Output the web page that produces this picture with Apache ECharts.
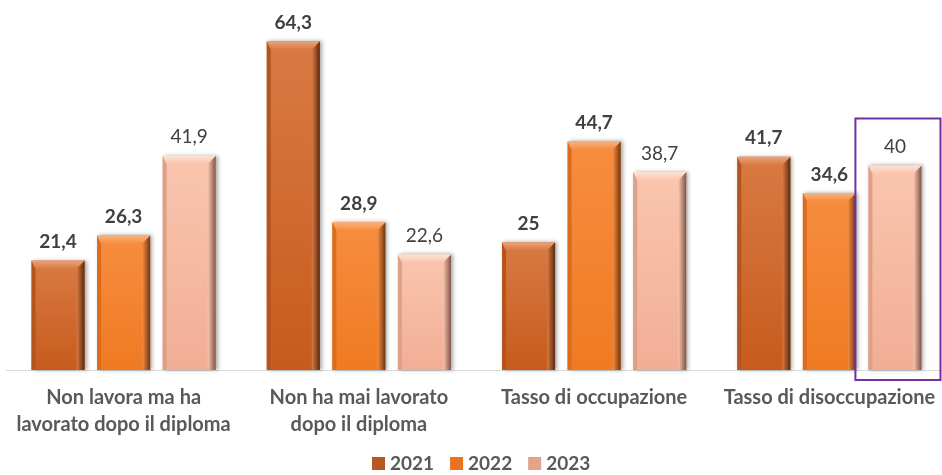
<!DOCTYPE html>
<html><head><meta charset="utf-8">
<script src="https://cdn.jsdelivr.net/npm/echarts@6/dist/echarts.min.js"></script>
<style>html,body{margin:0;padding:0;background:#fff}#c{width:942px;height:475px}</style>
</head><body><div id="c"></div>
<script>
const categories = ['Non lavora ma ha\nlavorato dopo il diploma', 'Non ha mai lavorato\ndopo il diploma', 'Tasso di occupazione', 'Tasso di disoccupazione'];
const years = ['2021', '2022', '2023'];
const v2021 = [21.4, 64.3, 25, 41.7];
const v2022 = [26.3, 28.9, 44.7, 34.6];
const v2023 = [41.9, 22.6, 38.7, 40];
const boldLabels = [true, true, false];
const highlight = { category: 3, year: 2 };

const palettes = [
  { top: '#D97A44', bottom: '#C75B1D', bevelTop: '#E8A47A', left: '#B5551E', right: '#5A2A0C', legend: '#B8571F' },
  { top: '#F78D40', bottom: '#EF7A22', bevelTop: '#FAB37C', left: '#DA6C1E', right: '#6E360E', legend: '#E9731F' },
  { top: '#FAC5AE', bottom: '#F1AE95', bevelTop: '#FDE3D6', left: '#DDA088', right: '#7E5546', legend: '#E3A28A' }
];
const seriesValues = [v2021, v2022, v2023];
const FONT = 'Lato, "Noto Sans", sans-serif';

const chart = echarts.init(document.getElementById('c'), null, { renderer: 'canvas' });

function makeRender(s) {
  const pal = palettes[s];
  return function (params, api) {
    const idx = api.value(0), val = api.value(1);
    const pTop = api.coord([idx, val]);
    const pBase = api.coord([idx, 0]);
    const band = api.size([1, 0])[0];
    const bw = band * 53 / 235;
    const gap = band * 12.5 / 235;
    const cx = pTop[0] + (s - 1) * (bw + gap);
    const x0 = cx - bw / 2, x1 = cx + bw / 2;
    const y0 = pTop[1], yb = pBase[1];
    const b = 8, bl = 4;
    const children = [
      { type: 'rect', shape: { x: x0, y: y0, width: bw, height: yb - y0 },
        style: { fill: new echarts.graphic.LinearGradient(0, 0, 0, 1, [{ offset: 0, color: pal.top }, { offset: 1, color: pal.bottom }]),
                 shadowColor: 'rgba(0,0,0,0.35)', shadowBlur: 4, shadowOffsetX: 2, shadowOffsetY: 0 } },
      { type: 'polygon', shape: { points: [[x0, y0], [x0 + bl, y0 + b], [x0 + bl, yb], [x0, yb]] },
        style: { fill: pal.left } },
      { type: 'polygon', shape: { points: [[x1, y0], [x1, yb], [x1 - b, yb], [x1 - b, y0 + b]] },
        style: { fill: new echarts.graphic.LinearGradient(0, 0, 1, 0, [{ offset: 0, color: pal.top }, { offset: 1, color: pal.right }]) } },
      { type: 'polygon', shape: { points: [[x0, y0], [x1, y0], [x1 - b, y0 + b], [x0 + bl, y0 + b]] },
        style: { fill: new echarts.graphic.LinearGradient(0, 0, 0, 1, [{ offset: 0, color: pal.bevelTop }, { offset: 1, color: pal.top }]) } },
      { type: 'text', style: { x: cx, y: y0 - 9, text: String(val).replace('.', ','), align: 'center', verticalAlign: 'bottom',
        fill: '#404040', font: (boldLabels[s] ? 'bold ' : '') + '19px ' + FONT } }
    ];
    if (highlight.category === idx && highlight.year === s) {
      children.push({ type: 'rect', shape: { x: x0 - 13, y: y0 - 47, width: bw + 32, height: yb - y0 + 57 },
        style: { fill: 'none', stroke: '#7030A0', lineWidth: 2 } });
    }
    return { type: 'group', children };
  };
}

const option = {
  animation: false,
  grid: { left: 6, right: -5, top: 12, height: 358, outerBoundsMode: 'none', containLabel: false },
  legend: {
    top: 454, left: 372, icon: 'rect', itemWidth: 13, itemHeight: 13, itemGap: 16, padding: 0,
    textStyle: { fontFamily: FONT, fontWeight: 'bold', fontSize: 19, color: '#595959' },
    data: years
  },
  xAxis: {
    type: 'category', data: categories,
    axisLine: { lineStyle: { color: '#D9D9D9', width: 1 } },
    axisTick: { show: false },
    axisLabel: { margin: 14, interval: 0, fontFamily: FONT, fontWeight: 'bold', fontSize: 20, lineHeight: 27, color: '#595959' }
  },
  yAxis: { type: 'value', min: 0, max: 70, show: false, splitLine: { show: false } },
  series: years.map((y, s) => ({
    name: y, type: 'custom', renderItem: makeRender(s),
    itemStyle: { color: palettes[s].legend },
    encode: { x: 0, y: 1 },
    data: seriesValues[s].map((v, i) => [i, v]),
    clip: false
  }))
};
chart.setOption(option);
</script></body></html>
